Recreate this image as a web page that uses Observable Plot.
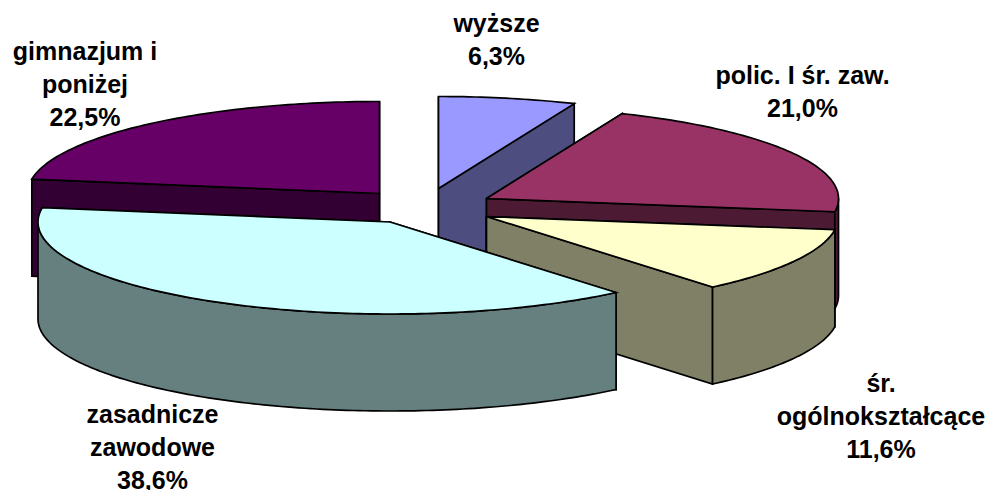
<!DOCTYPE html>
<html>
<head>
<meta charset="utf-8">
<script src="https://cdn.jsdelivr.net/npm/d3@7"></script>
<script src="https://cdn.jsdelivr.net/npm/@observablehq/plot@0.6"></script>
<style>
html,body{margin:0;padding:0;background:#fff;overflow:hidden}
svg{display:block}
</style>
</head>
<body>
<div id="chart"></div>
<script>
// Data (drawing order clockwise from 12 o'clock)
const categories = ["wyższe", "polic. I śr. zaw.", "śr.\nogólnokształcące", "zasadnicze\nzawodowe", "gimnazjum i\nponiżej"];
const shares = [6.3, 21.0, 11.6, 38.6, 22.5];
const valueLabels = ["6,3%", "21,0%", "11,6%", "38,6%", "22,5%"];

// Styles
const topColors = ["#9999ff", "#993366", "#ffffcc", "#ccffff", "#660066"];
const sideColors = ["#4d4d80", "#4d1a33", "#808066", "#668080", "#330033"];

// Layout of the tilted, exploded pie
const centreX = [438, 486, 486, 389.5, 379];
const centreY = [188, 198, 216, 221.5, 193];
const labelX = [496, 802, 880.5, 152, 84.5];
const labelY = [64, 116, 457, 488, 125];
const radiusX = 352, radiusY = 92, depth = 97;
const paintOrder = [0, 4, 1, 2, 3];

// Slice angles, clockwise from the top, from the shares
const total = d3.sum(shares);
const cumulative = d3.cumsum(shares);
const rad = d => d * Math.PI / 180;
const polygons = [];
function add(id, fill, pts) {
  const closed = [...pts, pts[0]];
  closed.forEach(([x, y]) => polygons.push({id, fill, x, y}));
}
paintOrder.forEach(i => {
  const a1 = cumulative[i] / total * 360;
  const a0 = a1 - shares[i] / total * 360;
  const cx = centreX[i], cy = centreY[i];
  const pt = (a, dz = 0) => [cx + radiusX * Math.sin(rad(a)), cy - radiusY * Math.cos(rad(a)) + dz];
  const face = a => [[cx, cy], pt(a), pt(a, depth), [cx, cy + depth]];
  const startShows = a0 > 180 && a0 < 360;
  const endShows = a1 > 0 && a1 < 180;
  const faces = [
    {a: a0, shows: startShows, k: "s"},
    {a: a1, shows: endShows, k: "e"}
  ].sort((p, q) => p.shows - q.shows);
  faces.forEach(f => add(`${i}${f.k}`, sideColors[i], face(f.a)));
  // Outer wall: only the part facing the viewer
  const w0 = Math.max(a0, 90), w1 = Math.min(a1, 270);
  if (w1 > w0) {
    const angles = d3.range(w0, w1, 1).concat(w1);
    add(`${i}o`, sideColors[i], [
      ...angles.map(a => pt(a)),
      ...angles.slice().reverse().map(a => pt(a, depth))
    ]);
  }
  // Top sector
  const angles = d3.range(a0, a1, 1).concat(a1);
  add(`${i}t`, topColors[i], [[cx, cy], ...angles.map(a => pt(a))]);
});

const labels = categories.map((c, i) => ({
  text: `${c}\n${valueLabels[i]}`, x: labelX[i], y: labelY[i]
}));

const chart = Plot.plot({
  width: 987,
  height: 490,
  margin: 0,
  x: {domain: [0, 987], range: [0, 987], axis: null},
  y: {domain: [0, 490], range: [0, 490], axis: null},
  style: {background: "#fff"},
  marks: [
    Plot.line(polygons, {x: "x", y: "y", z: "id", fill: "fill", stroke: "#000", strokeWidth: 1.7, strokeLinejoin: "miter", strokeMiterlimit: 4}),
    Plot.text(labels, {
      x: "x", y: "y", text: "text", lineAnchor: "bottom", lineHeight: 1.31, textAnchor: "middle",
      fontFamily: "Liberation Sans", fontWeight: "bold", fontSize: 25, fill: "#000"
    })
  ]
});
document.getElementById("chart").appendChild(chart);
</script>
</body>
</html>
